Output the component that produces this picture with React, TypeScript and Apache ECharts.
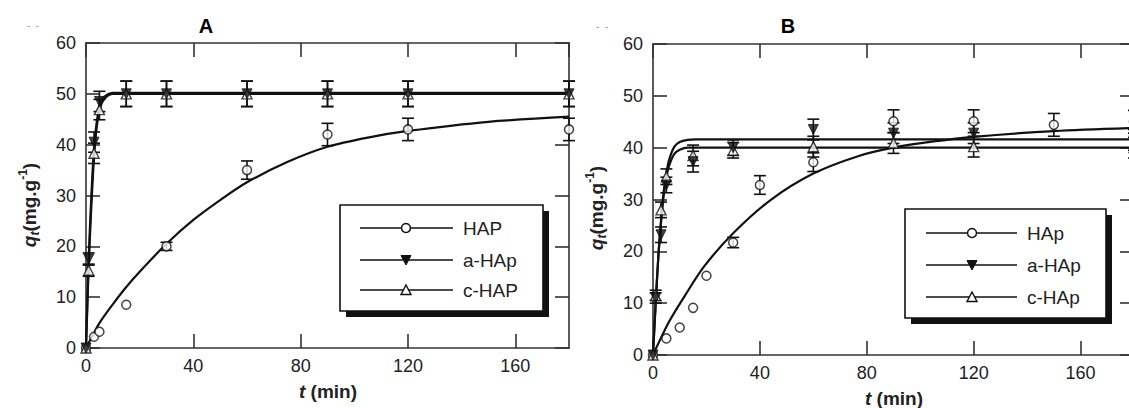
import React, { useEffect, useRef } from "react";
import * as echarts from "echarts";

// ---------- Panel A data ----------
const tA = [0, 1, 3, 5, 15, 30, 60, 90, 120, 180];
const aHApA = [0, 17.5, 40.5, 48.5, 50, 50, 50, 50, 50, 50];
const cHAPA = [0, 15.3, 38.3, 46.9, 50, 50, 50, 50, 50, 50];
const acErrA = [0, 1.2, 2, 2, 2.5, 2.5, 2.5, 2.5, 2.5, 2.5];
const hapA_t = [0, 3, 5, 15, 30, 60, 90, 120, 180];
const hapA = [0, 2.2, 3.2, 8.5, 20, 35, 42, 43, 43];
const hapA_err = [0, 0, 0, 0, 0.8, 1.8, 2.2, 2.2, 2.2];
// fitted curves
const hapFitA_t = [0, 2, 5, 10, 15, 20, 30, 40, 50, 60, 75, 90, 105, 120, 150, 180];
const hapFitA = [0, 2, 4.9, 8.6, 12, 15, 20.5, 25.2, 29.1, 32.6, 36.6, 39.6, 41.4, 42.7, 44.5, 45.5];
const acFitA_t = [0, 1, 2, 3, 4, 5, 6, 8, 10, 12, 15, 180];
const aFitA = [0, 17.5, 30, 39.5, 44.5, 47.5, 49, 49.9, 50.2, 50.2, 50.2, 50.2];
const cFitA = [0, 16, 28, 37.5, 43.5, 46.5, 48.3, 49.6, 50, 50, 50, 50];

// ---------- Panel B data ----------
const tB = [0, 1, 3, 5, 15, 30, 60, 90, 120, 180];
const aHApB = [0, 11, 23.2, 32.8, 37.3, 40, 43.5, 42.8, 42.8, 41.5];
const cHApB = [0, 11.5, 28, 34.4, 38.5, 39.5, 40.2, 40.9, 40.2, 40];
const aErrB = [0, 1, 1.5, 1.5, 2, 1.5, 2, 2, 2, 2];
const cErrB = [0, 1, 1.5, 1.5, 2, 1.5, 2, 2, 2, 2];
const hapB_t = [0, 5, 10, 15, 20, 30, 40, 60, 90, 120, 150, 180];
const hapB = [0, 3.2, 5.3, 9.1, 15.3, 21.7, 32.8, 37.2, 45.1, 45.1, 44.4, 45];
const hapB_err = [0, 0, 0, 0, 0, 1, 1.8, 1.8, 2.2, 2.2, 2.2, 2.2];
const hapFitB_t = [0, 6, 12, 19, 30, 44, 60, 77, 90, 105, 120, 150, 180];
const hapFitB = [0, 6.4, 11.5, 17, 23.5, 29.9, 35, 38.4, 40, 41.2, 42.1, 43.2, 43.8];
const acFitB_t = [0, 1, 2, 3, 4, 5, 6, 8, 10, 13, 16, 180];
const aFitB = [0, 10, 19, 26, 31.5, 35, 37.6, 40.2, 41.1, 41.5, 41.6, 41.6];
const cFitB = [0, 10, 19, 25.5, 30.8, 34.3, 36.5, 38.8, 39.6, 40, 40, 40];

// ---------- axis ticks ----------
const xMin = 0, xMax = 180, xStep = 40;
const yMin = 0, yMax = 60, yStep = 10;

const legendA = ["HAP", "a-HAp", "c-HAP"];
const legendB = ["HAp", "a-HAp", "c-HAp"];

const INK = "#111";
const TXT = "#222";
const FONT = "'Liberation Sans', Arial, sans-serif";

const pairs = (xs: number[], ys: number[]) => xs.map((x, i) => [x, ys[i]]);
const errs = (xs: number[], ys: number[], es: number[]) =>
  xs.map((x, i) => [x, ys[i] - es[i], ys[i] + es[i]]).filter((_, i) => es[i] > 0);

function errorSeries(data: number[][], axis: number) {
  return {
    type: "custom",
    xAxisIndex: axis * 2,
    yAxisIndex: axis * 2,
    z: 3,
    clip: false,
    silent: true,
    encode: { x: 0, y: [1, 2] },
    renderItem: (params: any, api: any) => {
      const x = api.value(0);
      const p1 = api.coord([x, api.value(2)]);
      const p2 = api.coord([x, api.value(1)]);
      const w = 6;
      const st = { stroke: INK, lineWidth: 1.6 };
      return {
        type: "group",
        children: [
          { type: "line", shape: { x1: p1[0], y1: p1[1], x2: p2[0], y2: p2[1] }, style: st },
          { type: "line", shape: { x1: p1[0] - w, y1: p1[1], x2: p1[0] + w, y2: p1[1] }, style: st },
          { type: "line", shape: { x1: p2[0] - w, y1: p2[1], x2: p2[0] + w, y2: p2[1] }, style: st },
        ],
      };
    },
    data,
  };
}

function fitSeries(xs: number[], ys: number[], axis: number) {
  return {
    type: "line",
    xAxisIndex: axis * 2,
    yAxisIndex: axis * 2,
    z: 4,
    smooth: 0.3,
    showSymbol: false,
    symbol: "none",
    lineStyle: { color: INK, width: 2.2 },
    data: pairs(xs, ys),
  };
}

const circleStyle = { color: "#fff", borderColor: INK, borderWidth: 1.5 };
const downStyle = { color: INK, borderColor: INK, borderWidth: 1 };
const upStyle = { color: "#fff", borderColor: INK, borderWidth: 1.4 };

function scatter(xs: number[], ys: number[], axis: number, kind: string) {
  const base: any = {
    type: "scatter",
    xAxisIndex: axis * 2,
    yAxisIndex: axis * 2,
    z: 5,
    data: pairs(xs, ys),
  };
  if (kind === "circle") {
    base.symbol = "circle";
    base.symbolSize = 9;
    base.itemStyle = circleStyle;
  } else if (kind === "down") {
    base.symbol = "triangle";
    base.symbolRotate = 180;
    base.symbolSize = 10;
    base.itemStyle = downStyle;
  } else {
    base.symbol = "triangle";
    base.symbolSize = 10;
    base.itemStyle = upStyle;
  }
  return base;
}

function xAxes(grid: number) {
  const common = {
    gridIndex: grid,
    type: "value",
    min: xMin,
    max: xMax,
    interval: xStep,
    splitLine: { show: false },
    axisLine: { show: true, onZero: false, lineStyle: { color: "#333", width: 1.6 } },
    axisTick: { show: true, inside: true, length: 14, lineStyle: { color: "#333", width: 1.6 } },
  };
  return [
    {
      ...common,
      position: "bottom",
      axisLabel: { show: true, margin: 9, color: TXT, fontSize: 18, fontFamily: FONT, showMaxLabel: false },
    },
    { ...common, position: "top", axisLabel: { show: false } },
  ];
}

function yAxes(grid: number) {
  const common = {
    gridIndex: grid,
    type: "value",
    min: yMin,
    max: yMax,
    interval: yStep,
    splitLine: { show: false },
    axisLine: { show: true, onZero: false, lineStyle: { color: "#333", width: 1.6 } },
    axisTick: { show: true, inside: true, length: 14, lineStyle: { color: "#333", width: 1.6 } },
  };
  return [
    {
      ...common,
      position: "left",
      axisLabel: { show: true, margin: 10, color: TXT, fontSize: 18, fontFamily: FONT },
    },
    { ...common, position: "right", axisLabel: { show: false } },
  ];
}

function legendGraphics(x: number, y: number, w: number, h: number, rows: number[], lx1: number, lx2: number, mx: number, tx: number, labels: string[]) {
  const els: any[] = [];
  els.push({ type: "rect", shape: { x: x + 6, y: y + 6, width: w, height: h }, style: { fill: INK }, z: 10 });
  els.push({ type: "rect", shape: { x, y, width: w, height: h }, style: { fill: "#fff", stroke: INK, lineWidth: 1.6 }, z: 11 });
  rows.forEach((ry, i) => {
    els.push({ type: "line", shape: { x1: lx1, y1: ry, x2: lx2, y2: ry }, style: { stroke: INK, lineWidth: 1.6 }, z: 12 });
    if (i === 0) {
      els.push({ type: "circle", shape: { cx: mx, cy: ry, r: 4.5 }, style: { fill: "#fff", stroke: INK, lineWidth: 1.5 }, z: 13 });
    } else if (i === 1) {
      els.push({ type: "polygon", shape: { points: [[mx - 5, ry - 4.5], [mx + 5, ry - 4.5], [mx, ry + 5]] }, style: { fill: INK, stroke: INK, lineWidth: 1 }, z: 13 });
    } else {
      els.push({ type: "polygon", shape: { points: [[mx - 5, ry + 4.5], [mx + 5, ry + 4.5], [mx, ry - 5]] }, style: { fill: "#fff", stroke: INK, lineWidth: 1.4 }, z: 13 });
    }
    els.push({
      type: "text",
      x: tx,
      y: ry,
      z: 13,
      style: { text: labels[i], fill: TXT, font: `19px ${FONT}`, align: "left", verticalAlign: "middle" },
    });
  });
  return els;
}

function yTitle(x: number, y: number) {
  return {
    type: "text",
    x,
    y,
    rotation: Math.PI / 2,
    z: 20,
    style: {
      text: "{q|q}{t|t}{n|(mg.g}{s|-1}{n|)}",
      align: "center",
      verticalAlign: "middle",
      fill: TXT,
      rich: {
        q: { fontSize: 19, fontWeight: "bold", fontStyle: "italic", fontFamily: FONT, fill: TXT, lineHeight: 24, verticalAlign: "middle" },
        t: { fontSize: 12, fontWeight: "bold", fontStyle: "italic", fontFamily: FONT, fill: TXT, lineHeight: 24, verticalAlign: "bottom" },
        n: { fontSize: 19, fontWeight: "bold", fontFamily: FONT, fill: TXT, lineHeight: 24, verticalAlign: "middle" },
        s: { fontSize: 12, fontWeight: "bold", fontFamily: FONT, fill: TXT, lineHeight: 24, verticalAlign: "top" },
      },
    },
  };
}

function xTitle(x: number, y: number) {
  return {
    type: "text",
    x,
    y,
    z: 20,
    style: {
      text: "{i|t}{b| (min)}",
      align: "center",
      verticalAlign: "middle",
      fill: TXT,
      rich: {
        i: { fontSize: 19, fontWeight: "bold", fontStyle: "italic", fontFamily: FONT, fill: TXT },
        b: { fontSize: 19, fontWeight: "bold", fontFamily: FONT, fill: TXT },
      },
    },
  };
}

export default function App() {
  const ref = useRef<HTMLDivElement>(null);
  useEffect(() => {
    if (!ref.current) return;
    const chart = echarts.init(ref.current, undefined, { renderer: "svg" });
    const option: any = {
      animation: false,
      backgroundColor: "#fff",
      grid: [
        { left: 86, top: 43, width: 483, height: 305, outerBoundsMode: "none", containLabel: false },
        { left: 653, top: 44, width: 481, height: 311, outerBoundsMode: "none", containLabel: false },
      ],
      xAxis: [...xAxes(0), ...xAxes(1)],
      yAxis: [...yAxes(0), ...yAxes(1)],
      series: [
        // Panel A
        errorSeries(errs(hapA_t, hapA, hapA_err), 0),
        errorSeries(errs(tA, aHApA, acErrA), 0),
        errorSeries(errs(tA, cHAPA, acErrA), 0),
        fitSeries(hapFitA_t, hapFitA, 0),
        fitSeries(acFitA_t, aFitA, 0),
        fitSeries(acFitA_t, cFitA, 0),
        scatter(hapA_t, hapA, 0, "circle"),
        scatter(tA, cHAPA, 0, "up"),
        scatter(tA, aHApA, 0, "down"),
        // Panel B
        errorSeries(errs(hapB_t, hapB, hapB_err), 1),
        errorSeries(errs(tB, aHApB, aErrB), 1),
        errorSeries(errs(tB, cHApB, cErrB), 1),
        fitSeries(hapFitB_t, hapFitB, 1),
        fitSeries(acFitB_t, aFitB, 1),
        fitSeries(acFitB_t, cFitB, 1),
        scatter(hapB_t, hapB, 1, "circle"),
        scatter(tB, cHApB, 1, "up"),
        scatter(tB, aHApB, 1, "down"),
      ],
      graphic: [
        { type: "text", x: 206, y: 26, z: 20, style: { text: "A", font: `bold 20px ${FONT}`, fill: "#000", align: "center", verticalAlign: "middle" } },
        { type: "text", x: 788, y: 26, z: 20, style: { text: "B", font: `bold 20px ${FONT}`, fill: "#000", align: "center", verticalAlign: "middle" } },
        { type: "text", x: 33, y: 25, z: 20, style: { text: "-  -", font: `10px ${FONT}`, fill: "#999", align: "center", verticalAlign: "middle" } },
        { type: "text", x: 602, y: 26, z: 20, style: { text: "-  -", font: `10px ${FONT}`, fill: "#999", align: "center", verticalAlign: "middle" } },
        yTitle(29, 205),
        yTitle(596, 208),
        xTitle(328, 391),
        xTitle(894, 398),
        ...legendGraphics(340, 205, 203, 106, [228, 260, 290], 360, 453, 406, 463, legendA),
        ...legendGraphics(905, 209, 201, 109, [233, 265, 297], 926, 1017, 972, 1027, legendB),
      ],
    };
    chart.setOption(option);
    return () => chart.dispose();
  }, []);
  return (
    <div
      ref={ref}
      style={{ position: "absolute", left: 0, top: 0, width: 1129, height: 408, overflow: "hidden", background: "#fff" }}
    />
  );
}
